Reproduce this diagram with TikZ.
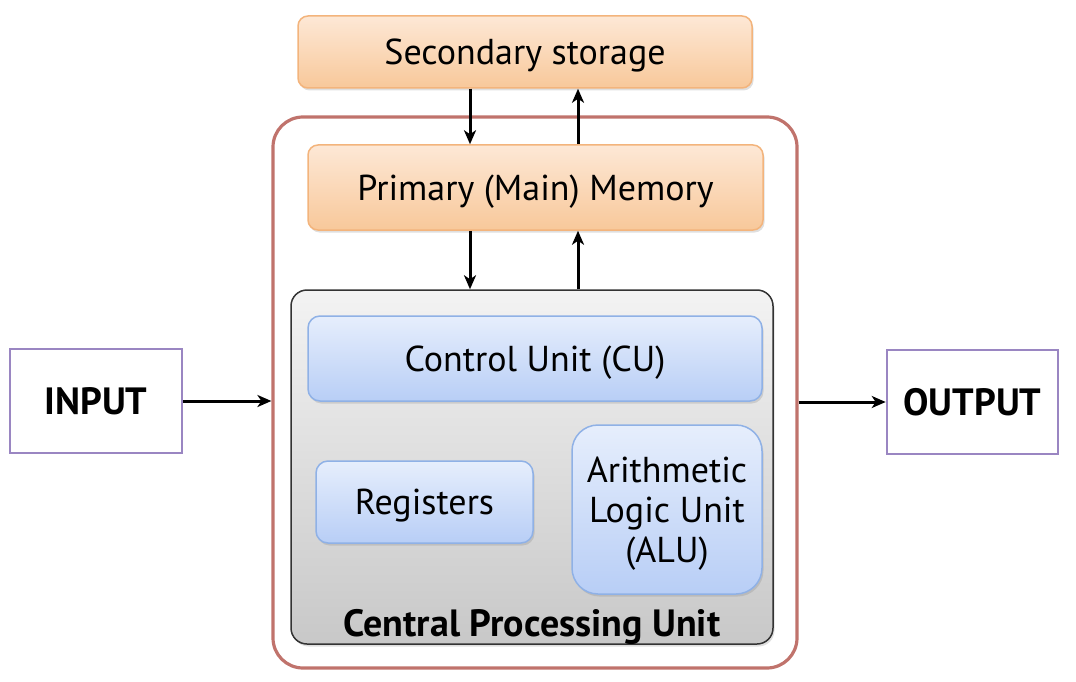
\documentclass[tikz,border=0pt]{standalone}
\usepackage{fontspec}
\setmainfont{PT Sans}
\usetikzlibrary{arrows.meta, positioning, shadows}

\definecolor{orangetop}{HTML}{FDE8D6}
\definecolor{orangebot}{HTML}{F8C89A}
\definecolor{orangeline}{HTML}{F3B47C}
\definecolor{bluetop}{HTML}{E6EEFC}
\definecolor{bluebot}{HTML}{B8CEF6}
\definecolor{blueline}{HTML}{8FB1E6}
\definecolor{graytop}{HTML}{F3F3F3}
\definecolor{graybot}{HTML}{C8C8C8}
\definecolor{pcline}{HTML}{C0736C}
\definecolor{ioline}{HTML}{9A86C2}

\begin{document}
\begin{tikzpicture}[
    x=1pt, y=-1pt,
    bigfont/.style={font=\fontsize{36}{40}\selectfont, text depth=0pt},
    shade/.style={drop shadow={shadow xshift=1.5pt, shadow yshift=-2.5pt, opacity=0.25}},
    store/.style={rectangle, rounded corners=10pt, draw=orangeline, line width=1.5pt,
        top color=orangetop, bottom color=orangebot, shade, bigfont},
    unit/.style={rectangle, rounded corners=12pt, draw=blueline, line width=1.5pt,
        top color=bluetop, bottom color=bluebot, shade, bigfont, align=center},
    iobox/.style={rectangle, draw=ioline, line width=2.6pt, fill=white,
        font=\fontsize{38}{44}\selectfont\bfseries},
    flow/.style={-{Stealth[length=14pt,width=12pt,inset=4pt]}, line width=3pt}
]
\useasboundingbox (0,0) rectangle (1076,682);

% computer frame
\node[rectangle, rounded corners=30pt, draw=pcline, line width=3.2pt,
      minimum width=524pt, minimum height=551pt] (pc) at (535,392.5) {};

% memories
\node[store, minimum width=454pt, minimum height=72pt] (sec) at (525,52) {Secondary storage};
\node[store, minimum width=455pt, minimum height=85pt] (mem) at (535.5,187.5) {Primary (Main) Memory};

% processor
\node[rectangle, rounded corners=16pt, draw=black!80, line width=1.5pt,
      top color=graytop, bottom color=graybot, shade,
      minimum width=482pt, minimum height=354pt] (cpu) at (532,467) {};
\node[unit, minimum width=454pt, minimum height=85pt] (cu) at (535,358.5) {Control Unit (CU)};
\node[unit, minimum width=217pt, minimum height=82pt] (reg) at (424.5,502) {Registers};
\node[unit, rounded corners=26pt, minimum width=190pt, minimum height=169pt] (alu) at (667,509.5)
    {Arithmetic\\Logic Unit\\(ALU)};
\node[font=\fontsize{38}{44}\selectfont\bfseries] (cpulbl) at (532,627) {Central Processing Unit};

% input / output
\node[iobox, minimum width=172pt, minimum height=104pt] (in) at (96,401) {INPUT};
\node[iobox, minimum width=171pt, minimum height=104pt] (out) at (972.5,402) {OUTPUT};

% data paths
\coordinate (dn) at (470,0);
\coordinate (up) at (578,0);
\draw[flow] (sec.south -| dn) -- (mem.north -| dn);
\draw[flow] (mem.north -| up) -- (sec.south -| up);
\draw[flow] (mem.south -| dn) -- (cpu.north -| dn);
\draw[flow] (cpu.north -| up) -- (mem.south -| up);
\draw[flow] (in.east) -- (in.east -| pc.west);
\draw[flow] (out.west -| pc.east) -- (out.west);
\end{tikzpicture}
\end{document}
